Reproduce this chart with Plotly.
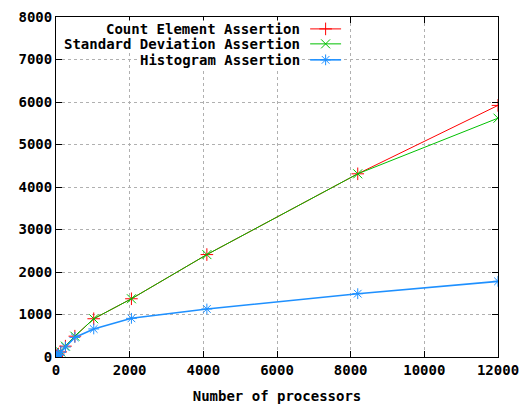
import plotly.graph_objects as go

procs = [1, 2, 4, 8, 16, 32, 64, 128, 256, 512, 1024, 2048, 4096, 8192, 12000]
count_elem = [2, 4, 8, 15, 25, 40, 70, 120, 255, 490, 900, 1370, 2410, 4310, 5920]
std_dev = [2, 4, 8, 15, 25, 40, 70, 120, 255, 490, 900, 1370, 2410, 4310, 5620]
histogram = [2, 4, 8, 14, 22, 35, 60, 110, 235, 460, 660, 910, 1130, 1490, 1780]

series_names = ["Count Element Assertion", "Standard Deviation Assertion", "Histogram Assertion"]
series_vals = [count_elem, std_dev, histogram]
colors = ["#ff0000", "#00c000", "#1e90ff"]
widths = [1, 1, 1.6]
symbols = ["cross-thin", "x-thin", "asterisk"]

x_ticks = [0, 2000, 4000, 6000, 8000, 10000, 12000]
y_ticks = [0, 1000, 2000, 3000, 4000, 5000, 6000, 7000, 8000]

FONT = "DejaVu Sans Mono"
FS = 14

fig = go.Figure()
for name, vals, c, w, s in zip(series_names, series_vals, colors, widths, symbols):
    fig.add_trace(go.Scatter(
        x=procs, y=vals, mode="lines+markers", name=name,
        line=dict(color=c, width=w),
        marker=dict(symbol=s, size=9, color=c, line=dict(color=c, width=1)),
        showlegend=False,
    ))

# custom gnuplot-style legend (text right-aligned, sample to the right)
leg_y = [0.965, 0.921, 0.874]
x_text = 0.555
x_s0, x_s1 = 0.575, 0.645
for name, c, w, s, ly in zip(series_names, colors, widths, symbols, leg_y):
    fig.add_annotation(xref="paper", yref="paper", x=x_text, y=ly, text="<b>%s</b>" % name,
                       showarrow=False, xanchor="right", yanchor="middle",
                       font=dict(family=FONT, size=FS, color="black"),
                       bgcolor="white", borderpad=0)
    fig.add_trace(go.Scatter(
        x=[x_s0, (x_s0 + x_s1) / 2, x_s1], y=[ly, ly, ly], xaxis="x2", yaxis="y2",
        mode="lines", line=dict(color=c, width=w), showlegend=False, hoverinfo="skip"))
    fig.add_trace(go.Scatter(
        x=[(x_s0 + x_s1) / 2], y=[ly], xaxis="x2", yaxis="y2",
        mode="markers", marker=dict(symbol=s, size=9, color=c, line=dict(color=c, width=1)),
        showlegend=False, hoverinfo="skip"))

axis_common = dict(
    ticks="inside", ticklen=6, tickcolor="black", mirror="ticks",
    showline=True, linecolor="black", linewidth=1,
    showgrid=True, gridcolor="#b0b0b0", griddash="dot", gridwidth=1,
    zeroline=False, automargin=False,
    tickfont=dict(family=FONT, size=FS, color="black"),
)

# page body has an 8px margin, so the figure is 8px smaller and margins shifted
fig.update_layout(
    width=523, height=396,
    margin=dict(l=48, r=33, t=9, b=47),
    paper_bgcolor="white", plot_bgcolor="white",
    font=dict(family=FONT, size=FS, color="black"),
    xaxis=dict(range=[0, 12000], tickvals=x_ticks, ticktext=["<b>%d</b>" % v for v in x_ticks],
               title=dict(text="<b>Number of processors</b>", font=dict(family=FONT, size=FS), standoff=14),
               **axis_common),
    yaxis=dict(range=[0, 8000], tickvals=y_ticks, ticktext=["<b>%d</b>" % v for v in y_ticks],
               **axis_common),
    xaxis2=dict(range=[0, 1], overlaying="x", visible=False, fixedrange=True),
    yaxis2=dict(range=[0, 1], overlaying="y", visible=False, fixedrange=True),
)

fig.write_html("out.html")
